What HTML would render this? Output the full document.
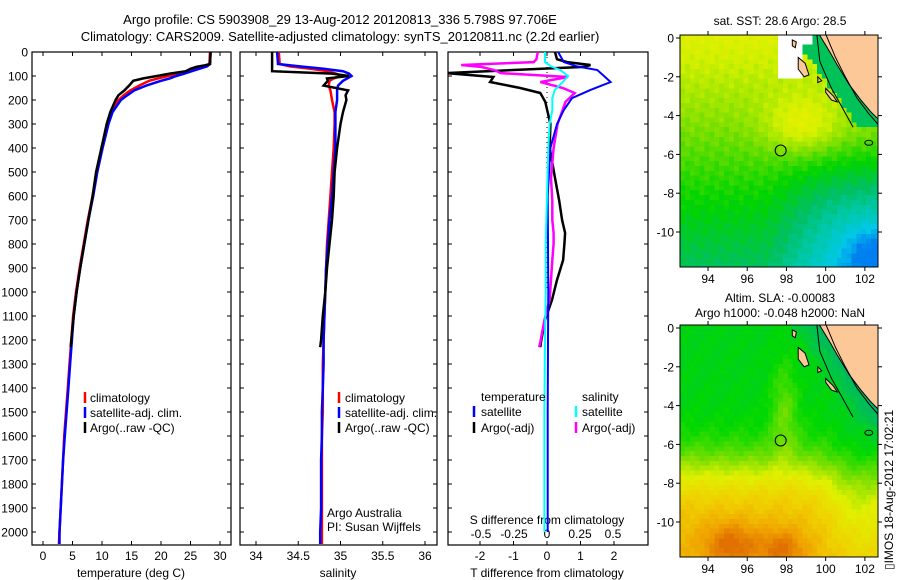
<!DOCTYPE html>
<html><head><meta charset="utf-8">
<style>
html,body{margin:0;padding:0;background:#fff;}
svg{display:block;font-family:"Liberation Sans",sans-serif;}
text{font-size:12px;fill:#000;}
</style></head>
<body>
<svg id="fig" width="900" height="580" viewBox="0 0 900 580" xmlns="http://www.w3.org/2000/svg">
<text x="340" y="24" text-anchor="middle" style="font-size:13px">Argo profile: CS 5903908_29 13-Aug-2012 20120813_336 5.798S 97.706E</text>
<text x="340" y="41" text-anchor="middle" style="font-size:13px">Climatology: CARS2009. Satellite-adjusted climatology: synTS_20120811.nc (2.2d earlier)</text>
<text x="780" y="25" text-anchor="middle">sat. SST: 28.6 Argo: 28.5</text>
<text x="780" y="302" text-anchor="middle">Altim. SLA: -0.00083</text>
<text x="780" y="317" text-anchor="middle">Argo h1000: -0.048 h2000: NaN</text>
<text transform="translate(893,570) rotate(-90)">▯IMOS 18-Aug-2012 17:02:21</text>
<g id="plots"></g>
</svg>
<script>
// ---- data ----
const tDepthArgo = [0,50,55,62,70,80,90,100,110,120,140,160,180,200,250,300,400,500,600,700,800,900,1000,1100,1200,1230];
const tArgo      = [28.4,28.3,27.5,26,25,24.2,21.5,19.3,17,15.3,14.6,13.8,12.8,12.3,11.4,10.8,9.9,9.0,8.4,7.7,7.0,6.3,5.7,5.2,4.8,4.7];
const tDepthClim = [0,50,60,70,80,90,100,110,120,140,160,180,200,250,300,400,500,600,700,800,900,1000,1100,1200,1300,1400,1500,1600,1700,1800,1900,2000,2050];
const tClim      = [28.3,28.2,27.5,26,24.5,23,21.2,19.5,18,16.3,14.8,13.7,12.8,11.6,11,10,9.1,8.4,7.6,6.9,6.2,5.6,5.1,4.8,4.5,4.2,3.9,3.6,3.4,3.2,3.0,2.8,2.7];
const tSat       = [28.4,28.3,27.8,26.5,25.2,24,22.6,21.5,20,17.5,15.5,14.3,13.2,11.8,11.1,10.1,9.2,8.5,7.7,7.0,6.3,5.7,5.2,4.9,4.6,4.3,4.0,3.7,3.4,3.2,3.0,2.8,2.8];
const sArgo      = [34.19,34.19,34.19,34.19,34.19,34.19,34.9,35.1,34.84,34.85,34.8,35.09,35.06,35.07,35.03,35.0,34.96,34.93,34.92,34.9,34.87,34.84,34.82,34.79,34.77,34.76];
const sClim      = [34.27,34.28,34.4,34.65,34.85,34.95,35.0,34.92,34.87,34.86,34.88,34.89,34.9,34.93,34.93,34.92,34.9,34.88,34.86,34.84,34.83,34.82,34.81,34.8,34.79,34.79,34.79,34.78,34.78,34.78,34.78,34.78,34.78];
const sSat       = [34.25,34.26,34.52,34.8,35.03,35.1,35.13,35.08,35.03,34.97,34.96,34.96,34.96,34.94,34.94,34.94,34.92,34.9,34.87,34.85,34.83,34.82,34.81,34.8,34.8,34.79,34.78,34.78,34.77,34.77,34.77,34.76,34.76];
const dDepthArgo = [0,30,42,54,62,75,88,104,125,150,171,208,300,400,525,617,700,754,800,867,950,1033,1117,1208,1230];
const dTArgo     = [0.24,0.3,0.6,1.3,1.1,-1.0,-3.0,-1.6,-1.7,-0.8,-0.2,-0.05,0.1,0.08,0.24,0.36,0.45,0.54,0.52,0.48,0.3,0.15,-0.06,-0.18,-0.2];
const dSArgo     = [-0.07,-0.08,-0.1,-0.65,-0.5,-0.4,-0.35,0.16,-0.05,0.12,0.21,0.14,0.08,0.05,0.03,0.04,0.04,0.05,0.05,0.04,0.03,0.02,-0.02,-0.05,-0.06];
const dDepthSat  = [0,42,60,75,100,125,158,192,242,300,400,600,800,1000,1200,1500,1800,2000];
const dTSat      = [0.33,0.5,0.9,1.5,1.7,1.9,1.3,0.75,0.5,0.3,0.1,0.02,0.03,0.04,0.03,0.02,0.02,0.02];
const dSSat      = [-0.015,-0.015,0.03,0.1,0.16,0.12,0.06,0.04,0.04,0.02,0.01,0.0,-0.01,-0.01,-0.015,-0.02,-0.02,-0.02];
const depthTicks = [0,100,200,300,400,500,600,700,800,900,1000,1100,1200,1300,1400,1500,1600,1700,1800,1900,2000];
const tTicks = [0,5,10,15,20,25,30];
const sTicks = [34,34.5,35,35.5,36];
const sTickLabels = ["34","34.5","35","35.5","36"];
const dTTicks = [-2,-1,0,1,2];
const dSTicks = [-0.5,-0.25,0,0.25,0.5];
const dSTickLabels = ["-0.5","-0.25","0","0.25","0.5"];
const lonTicks = [94,96,98,100,102];
const latTicks = [0,-2,-4,-6,-8,-10];
const argoLon = 97.706, argoLat = -5.798;

// ---- helpers ----
const NS="http://www.w3.org/2000/svg";
const root=document.getElementById('plots');
function mk(tag,attrs,parent){const e=document.createElementNS(NS,tag);for(const k in attrs)e.setAttribute(k,attrs[k]);(parent||root).appendChild(e);return e;}
const Y0=52, YS=0.24, YB=545;
const yD=d=>Y0+d*YS;
function lin(v0,p0,v1,p1){return v=>p0+(v-v0)*(p1-p0)/(v1-v0);}
const xT=lin(0,43,30,220), xS=lin(34,256,36,425), xDT=lin(0,547,1,580.5), xDS=lin(0,547,0.5,613);

function panel(name,x0,x1){
  const r=mk('rect',{x:x0,y:Y0,width:x1-x0,height:YB-Y0,fill:'none',stroke:'#000','stroke-width':1.2});
  
  
  for(const d of depthTicks){
    const t=mk('line',{x1:x0,x2:x0+4,y1:yD(d),y2:yD(d),stroke:'#000'});
    
    
    const t2=mk('line',{x1:x1-4,x2:x1,y1:yD(d),y2:yD(d),stroke:'#000'});
    
    
  }
}
function xticks(name,vals,labels,fx,yLab,top){
  vals.forEach((v,i)=>{
    const x=fx(v);
    const b=mk('line',{x1:x,x2:x,y1:YB-4,y2:YB,stroke:'#000'});
    
    
    if(top){const t=mk('line',{x1:x,x2:x,y1:Y0,y2:Y0+4,stroke:'#000'});
      
      }
    const l=mk('text',{x:x,y:yLab,'text-anchor':'middle'});
    l.textContent=labels[i];
    
    
  });
}
function line(name,depths,vals,fx,color,w,clip){
  const pts=depths.map((d,i)=>fx(vals[i]).toFixed(1)+','+yD(d).toFixed(1)).join(' ');
  const p=mk('polyline',{points:pts,fill:'none',stroke:color,'stroke-width':w||2.5,'stroke-linejoin':'miter'});
  if(clip)p.setAttribute('clip-path','url(#'+clip+')');
  
  
}
function label(name,txt,x,y,anchor){
  const t=mk('text',{x:x,y:y,'text-anchor':anchor||'start'});t.textContent=txt;
  
  
}
function legTick(name,x,y,color){
  const l=mk('line',{x1:x,x2:x,y1:y-11,y2:y,stroke:color,'stroke-width':2.5});
  
  
}
const defs=mk('defs',{});
function clipRect(id,x,y,w,h){const c=mk('clipPath',{id:id},defs);mk('rect',{x:x,y:y,width:w,height:h},c);}
clipRect('c3',448,Y0,200,YB-Y0);

// depth labels
depthTicks.forEach(d=>label('depth-tick-label',String(d),28,yD(d)+4.5,'end'));

// panel 1 temperature
panel('temperature-panel',32,231);
xticks('temperature-axis',tTicks,tTicks.map(String),xT,560,true);
label('temperature-axis-title','temperature (deg C)',131,577,'middle');
line('temperature-climatology',tDepthClim,tClim,xT,'#f00');
line('temperature-satellite-adj',tDepthClim,tSat,xT,'#00f');
line('temperature-argo',tDepthArgo,tArgo,xT,'#000');
legTick('legend-climatology-marker',85,403,'#f00');label('legend-climatology','climatology',90,402);
legTick('legend-satellite-marker',85,418,'#00f');label('legend-satellite','satellite-adj. clim.',90,417);
legTick('legend-argo-marker',85,433,'#000');label('legend-argo','Argo(..raw -QC)',90,432);

// panel 2 salinity
panel('salinity-panel',240,437);
xticks('salinity-axis',sTicks,sTickLabels,xS,560,true);
label('salinity-axis-title','salinity',338,577,'middle');
line('salinity-climatology',tDepthClim,sClim,xS,'#f00');
line('salinity-satellite-adj',tDepthClim,sSat,xS,'#00f');
line('salinity-argo',tDepthArgo,sArgo,xS,'#000');
legTick('legend2-climatology-marker',339,403,'#f00');label('legend2-climatology','climatology',345,402);
legTick('legend2-satellite-marker',339,418,'#00f');label('legend2-satellite','satellite-adj. clim.',345,417);
legTick('legend2-argo-marker',339,433,'#000');label('legend2-argo','Argo(..raw -QC)',345,432);
label('credit-argo-australia','Argo Australia',327,517);
label('credit-pi','PI: Susan Wijffels',327,531);

// panel 3 differences
panel('difference-panel',448,648);
xticks('t-diff-axis',dTTicks,dTTicks.map(String),xDT,560,true);
label('t-diff-axis-title','T difference from climatology',547,577,'middle');
dSTicks.forEach((v,i)=>label('s-diff-tick-label',dSTickLabels[i],xDS(v),538,'middle'));
label('s-diff-axis-title','S difference from climatology',547,524,'middle');
const dots=mk('line',{x1:547,x2:547,y1:Y0,y2:yD(1000),stroke:'#000','stroke-width':1,'stroke-dasharray':'1,4'});


line('t-diff-argo',dDepthArgo,dTArgo,xDT,'#000',2.5,'c3');
line('s-diff-argo',dDepthArgo,dSArgo,xDS,'#f0f',2.5,'c3');
line('t-diff-satellite',dDepthSat,dTSat,xDT,'#00f',2,'c3');
line('s-diff-satellite',dDepthSat,dSSat,xDS,'#0ff',2,'c3');
label('legend3-temperature-header','temperature',481,401);
label('legend3-salinity-header','salinity',582,401);
legTick('legend3-t-sat-marker',474,417,'#00f');label('legend3-t-sat','satellite',481,416);
legTick('legend3-t-argo-marker',474,433,'#000');label('legend3-t-argo','Argo(-adj)',481,432);
legTick('legend3-s-sat-marker',576,417,'#0ff');label('legend3-s-sat','satellite',582,416);
legTick('legend3-s-argo-marker',576,433,'#f0f');label('legend3-s-argo','Argo(-adj)',582,432);

// ---- maps ----
const MX0=680,MX1=878,LON0=92.57,LON1=102.67;
const mxl=lin(LON0,MX0,LON1,MX1);
function hex(c){return [parseInt(c.substr(1,2),16),parseInt(c.substr(3,2),16),parseInt(c.substr(5,2),16)];}
function pal(stops,v){v=Math.max(stops[0][0],Math.min(stops[stops.length-1][0],v));
  for(let i=0;i<stops.length-1;i++){const a=stops[i],b=stops[i+1];if(v<=b[0]){const f=(v-a[0])/(b[0]-a[0]);const ca=hex(a[1]),cb=hex(b[1]);
  return 'rgb('+ca.map((x,j)=>Math.round(x+(cb[j]-x)*f)).join(',')+')';}}return stops[stops.length-1][1];}
const pal1=[[0.1,'#0080f0'],[0.22,'#00c8e8'],[0.34,'#00c8a8'],[0.44,'#00c060'],[0.56,'#00d400'],[0.7,'#80e000'],[0.82,'#d0f000'],[0.92,'#f0f000']];
const pal2=[[0.1,'#00b070'],[0.25,'#00c840'],[0.35,'#00d800'],[0.5,'#80e000'],[0.62,'#e0f000'],[0.75,'#f0d000'],[0.88,'#f0a000'],[1.0,'#e07000']];
function g(x,y,cx,cy,sx,sy){return Math.exp(-((x-cx)*(x-cx))/(2*sx*sx)-((y-cy)*(y-cy))/(2*sy*sy));}
function coast(lat){return 99.6+(-lat)*0.72;}
function field1(lon,lat){let v=0.86+lat*0.035-0.025*Math.max(0,lon-97)*Math.max(0,-lat-5)/3+0.17*g(lon,lat,98.8,-4.5,1.3,1.0)-0.12*g(lon,lat,102.2,-11,0.9,0.9)-0.06*g(lon,lat,100.5,-9,2,2);
  v+=0.03*Math.sin(lon*7.1+lat*3.3)*Math.cos(lat*5.7-lon*1.9);if(lon>coast(lat)-1.2&&lat>-4.5)v=Math.min(v,0.45);return v;}
function field2(lon,lat){let v=0.32+0.5/(1+Math.exp((lat+7.3)*1.1))-0.05*Math.max(0,lon-100)/2+0.13*g(lon,lat,97.9,-4.2,0.5,1.8)+0.2*g(lon,lat,95.2,-11.2,1,0.8)+0.18*g(lon,lat,97.8,-11.4,0.8,0.7)-0.12*g(lon,lat,101.5,-9,1.2,2)-0.1*Math.max(0,lon-coast(lat)+1.5)*(lat>-5?1:0);
  v+=0.025*Math.sin(lon*6.3+lat*2.1)*Math.cos(lat*4.9+lon*2.3);return v;}
const land=[[99.6,0.3],[100.2,-0.7],[100.6,-1.4],[101.2,-2.4],[101.8,-3.2],[102.3,-3.8],[102.8,-4.3],[102.8,0.3]];
const islands=[[[98.6,-1.0],[98.95,-1.3],[99.15,-1.9],[98.9,-2.0],[98.6,-1.6]],[[100.0,-2.6],[100.4,-3.0],[100.6,-3.3],[100.3,-3.2],[100.0,-2.8]],[[98.3,-0.1],[98.5,-0.2],[98.45,-0.5],[98.3,-0.4]],[[99.6,-2.0],[99.8,-2.2],[99.6,-2.3]]];
function map(name,top,yLat0,fieldFn,palette,white){
  const MY0=top,MY1=top+232;
  const myl=lin(0,yLat0,-10,yLat0+194);
  const latTop=(MY0-yLat0)/-19.4, latBot=(MY1-yLat0)/-19.4;
  const cid=name+'-clip';clipRect(cid,MX0,MY0,MX1-MX0,MY1-MY0);
  const grp=mk('g',{'clip-path':'url(#'+cid+')'});
  
  
  const step=0.25;
  for(let lon=LON0;lon<LON1;lon+=step){for(let lat=latTop;lat>latBot-step;lat-=step){
    const cx=lon+step/2,cy=lat-step/2;
    let col=pal(palette,fieldFn(cx,cy));
    if(white&&cx>97.6&&cx<99.4&&cy>-2&&!(cx>98.9&&cy<-0.3))col='#fff';
    mk('rect',{x:mxl(lon).toFixed(1),y:myl(lat).toFixed(1),width:5.3,height:5.3,fill:col,'shape-rendering':'crispEdges'},grp);
  }}
  const pt=a=>a.map(p=>mxl(p[0]).toFixed(1)+','+myl(p[1]).toFixed(1)).join(' ');
  const L=mk('polygon',{points:pt(land),fill:'#fdc898',stroke:'none'},grp);
  
  
  islands.forEach(is=>{const I=mk('polygon',{points:pt(is),fill:'#fdc898',stroke:'#000','stroke-width':1},grp);
    
    });
  const cl=mk('polyline',{points:pt([[99.6,0.3],[100.2,-0.7],[100.6,-1.4],[101.2,-2.4],[101.8,-3.2],[102.3,-3.8],[102.8,-4.3]]),fill:'none',stroke:'#000','stroke-width':1},grp);
  
  
  const c2=mk('polyline',{points:pt([[99.55,0.2],[99.7,-1.2],[100.3,-2.6],[100.8,-3.5],[101.4,-4.6]]),fill:'none',stroke:'#000','stroke-width':1},grp);
  
  
  const c3=mk('polyline',{points:pt([[100.0,0.2],[100.5,-1.0],[101.0,-2.0],[101.6,-3.1],[102.2,-3.9],[102.8,-4.6]]),fill:'none',stroke:'#000','stroke-width':1},grp);
  
  
  const e=mk('ellipse',{cx:mxl(102.2),cy:myl(-5.4),rx:4,ry:2.5,fill:'none',stroke:'#000'},grp);
  
  
  const m=mk('circle',{cx:mxl(argoLon),cy:myl(argoLat),r:5.5,fill:'none',stroke:'#000','stroke-width':1});
  
  
  const fr=mk('rect',{x:MX0,y:MY0,width:MX1-MX0,height:MY1-MY0,fill:'none',stroke:'#000','stroke-width':1});
  
  
  lonTicks.forEach(v=>{const x=mxl(v);
    const a=mk('line',{x1:x,x2:x,y1:MY0-4,y2:MY0,stroke:'#000'});
    const b=mk('line',{x1:x,x2:x,y1:MY1,y2:MY1+4,stroke:'#000'});
    label(name+'-lon-label',String(v),x,MY1+16,'middle');});
  latTicks.forEach(v=>{const y=myl(v);
    const a=mk('line',{x1:MX0-4,x2:MX0,y1:y,y2:y,stroke:'#000'});
    const b=mk('line',{x1:MX1,x2:MX1+4,y1:y,y2:y,stroke:'#000'});
    label(name+'-lat-label',String(v),674,y+4.5,'end');});
}
map('sst-map',35,38,field1,pal1,true);
map('sla-map',325,328,field2,pal2,false);
</script>
</body></html>
